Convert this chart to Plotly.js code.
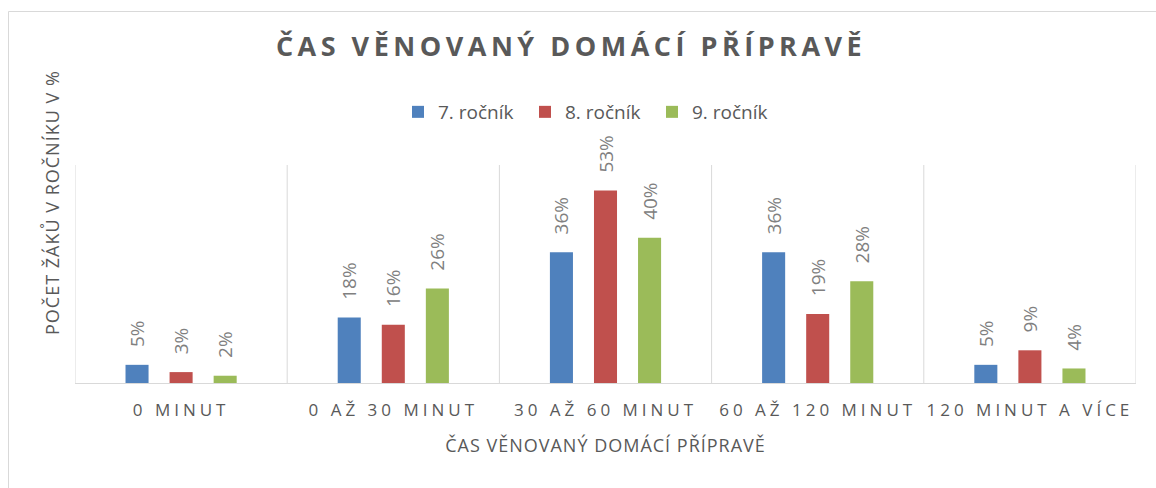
<!DOCTYPE html>
<html>
<head>
<meta charset="utf-8">
<script src="https://cdn.plot.ly/plotly-3.0.1.min.js"></script>
<style>
  html, body { margin: 0; padding: 0; background: #fff; }
  #chart { width: 1156px; height: 488px; }
  .gtitle { letter-spacing: 4.5px; }
  .xtick text { letter-spacing: 4px; }
  .g-xtitle text { letter-spacing: 1px; }
  .annotation-text { letter-spacing: 1px; }
</style>
</head>
<body>
<div id="chart"></div>
<script>
const categories = ["0 MINUT", "0 AŽ 30 MINUT", "30 AŽ 60 MINUT", "60 AŽ 120 MINUT", "120 MINUT A VÍCE"];
const seriesNames = ["7. ročník", "8. ročník", "9. ročník"];
const grade7 = [5, 18, 36, 36, 5];
const grade8 = [3, 16, 53, 19, 9];
const grade9 = [2, 26, 40, 28, 4];
const colors = ["#4f81bd", "#c0504d", "#9bbb59"];

const W = 1156, H = 488;
const M = { l: 75, r: 20, t: 165, b: 105 };
const pw = W - M.l - M.r, ph = H - M.t - M.b;
const pad = "\u00a0\u00a0\u00a0";

const idx = categories.map((_, i) => i);
const traces = [grade7, grade8, grade9].map((vals, s) => ({
  type: "bar",
  name: seriesNames[s],
  x: idx,
  y: vals,
  marker: { color: colors[s] },
  text: vals.map(v => pad + v + "%"),
  textposition: "outside",
  textangle: -90,
  constraintext: "none",
  cliponaxis: false,
  textfont: { family: "Open Sans", size: 19, color: "#808080" },
  hoverinfo: "skip"
}));

const shapes = [];
for (let k = 0; k <= categories.length; k++) {
  shapes.push({ type: "line", xref: "x", yref: "paper", x0: k - 0.5, x1: k - 0.5, y0: 0, y1: 1,
    line: { color: "#d9d9d9", width: 1 } });
}
// outer chart border (left and top)
const bx = (8.5 - M.l) / pw, by = (H - M.b - 11.5) / ph;
shapes.push({ type: "line", xref: "paper", yref: "paper", x0: bx, x1: bx, y0: by, y1: -1, line: { color: "#d9d9d9", width: 1 } });
shapes.push({ type: "line", xref: "paper", yref: "paper", x0: bx, x1: 2, y0: by, y1: by, line: { color: "#d9d9d9", width: 1 } });

const layout = {
  width: W, height: H,
  margin: M,
  paper_bgcolor: "#fff", plot_bgcolor: "#fff",
  barmode: "group",
  bargap: 0.377,
  bargroupgap: 0.477,
  font: { family: "Open Sans", color: "#595959" },
  title: {
    text: "<b>ČAS VĚNOVANÝ DOMÁCÍ PŘÍPRAVĚ</b>",
    font: { family: "Open Sans", size: 27, color: "#595959" },
    xref: "container", x: 0.494, xanchor: "center",
    yref: "container", y: 1 - 47 / H, yanchor: "middle"
  },
  legend: {
    orientation: "h",
    entrywidth: 82,
    entrywidthmode: "pixels",
    xref: "container", x: 398 / W, xanchor: "left",
    yref: "container", y: 1 - 112 / H, yanchor: "middle",
    font: { family: "Open Sans", size: 19, color: "#595959" },
    traceorder: "normal"
  },
  xaxis: {
    range: [-0.5, categories.length - 0.5],
    tickmode: "array",
    tickvals: idx,
    ticktext: categories,
    showgrid: false,
    zeroline: false,
    showline: true,
    linecolor: "#d9d9d9",
    linewidth: 1,
    ticks: "",
    ticklabelstandoff: 12,
    tickfont: { family: "Open Sans", size: 17, color: "#595959" },
    title: { text: "ČAS VĚNOVANÝ DOMÁCÍ PŘÍPRAVĚ", font: { family: "Open Sans", size: 18, color: "#595959" }, standoff: 18 },
    fixedrange: true
  },
  yaxis: {
    range: [0, 60],
    visible: false,
    showgrid: false,
    zeroline: false,
    fixedrange: true
  },
  annotations: [{
    text: "POČET ŽÁKŮ V ROČNÍKU V %",
    xref: "paper", yref: "paper",
    x: (52 - M.l) / pw, y: (H - M.b - 203) / ph,
    xanchor: "center", yanchor: "middle",
    textangle: -90, showarrow: false,
    font: { family: "Open Sans", size: 18, color: "#595959" }
  }],
  shapes: shapes,
  showlegend: true
};

Plotly.newPlot("chart", traces, layout, { displayModeBar: false, staticPlot: true });
</script>
</body>
</html>
